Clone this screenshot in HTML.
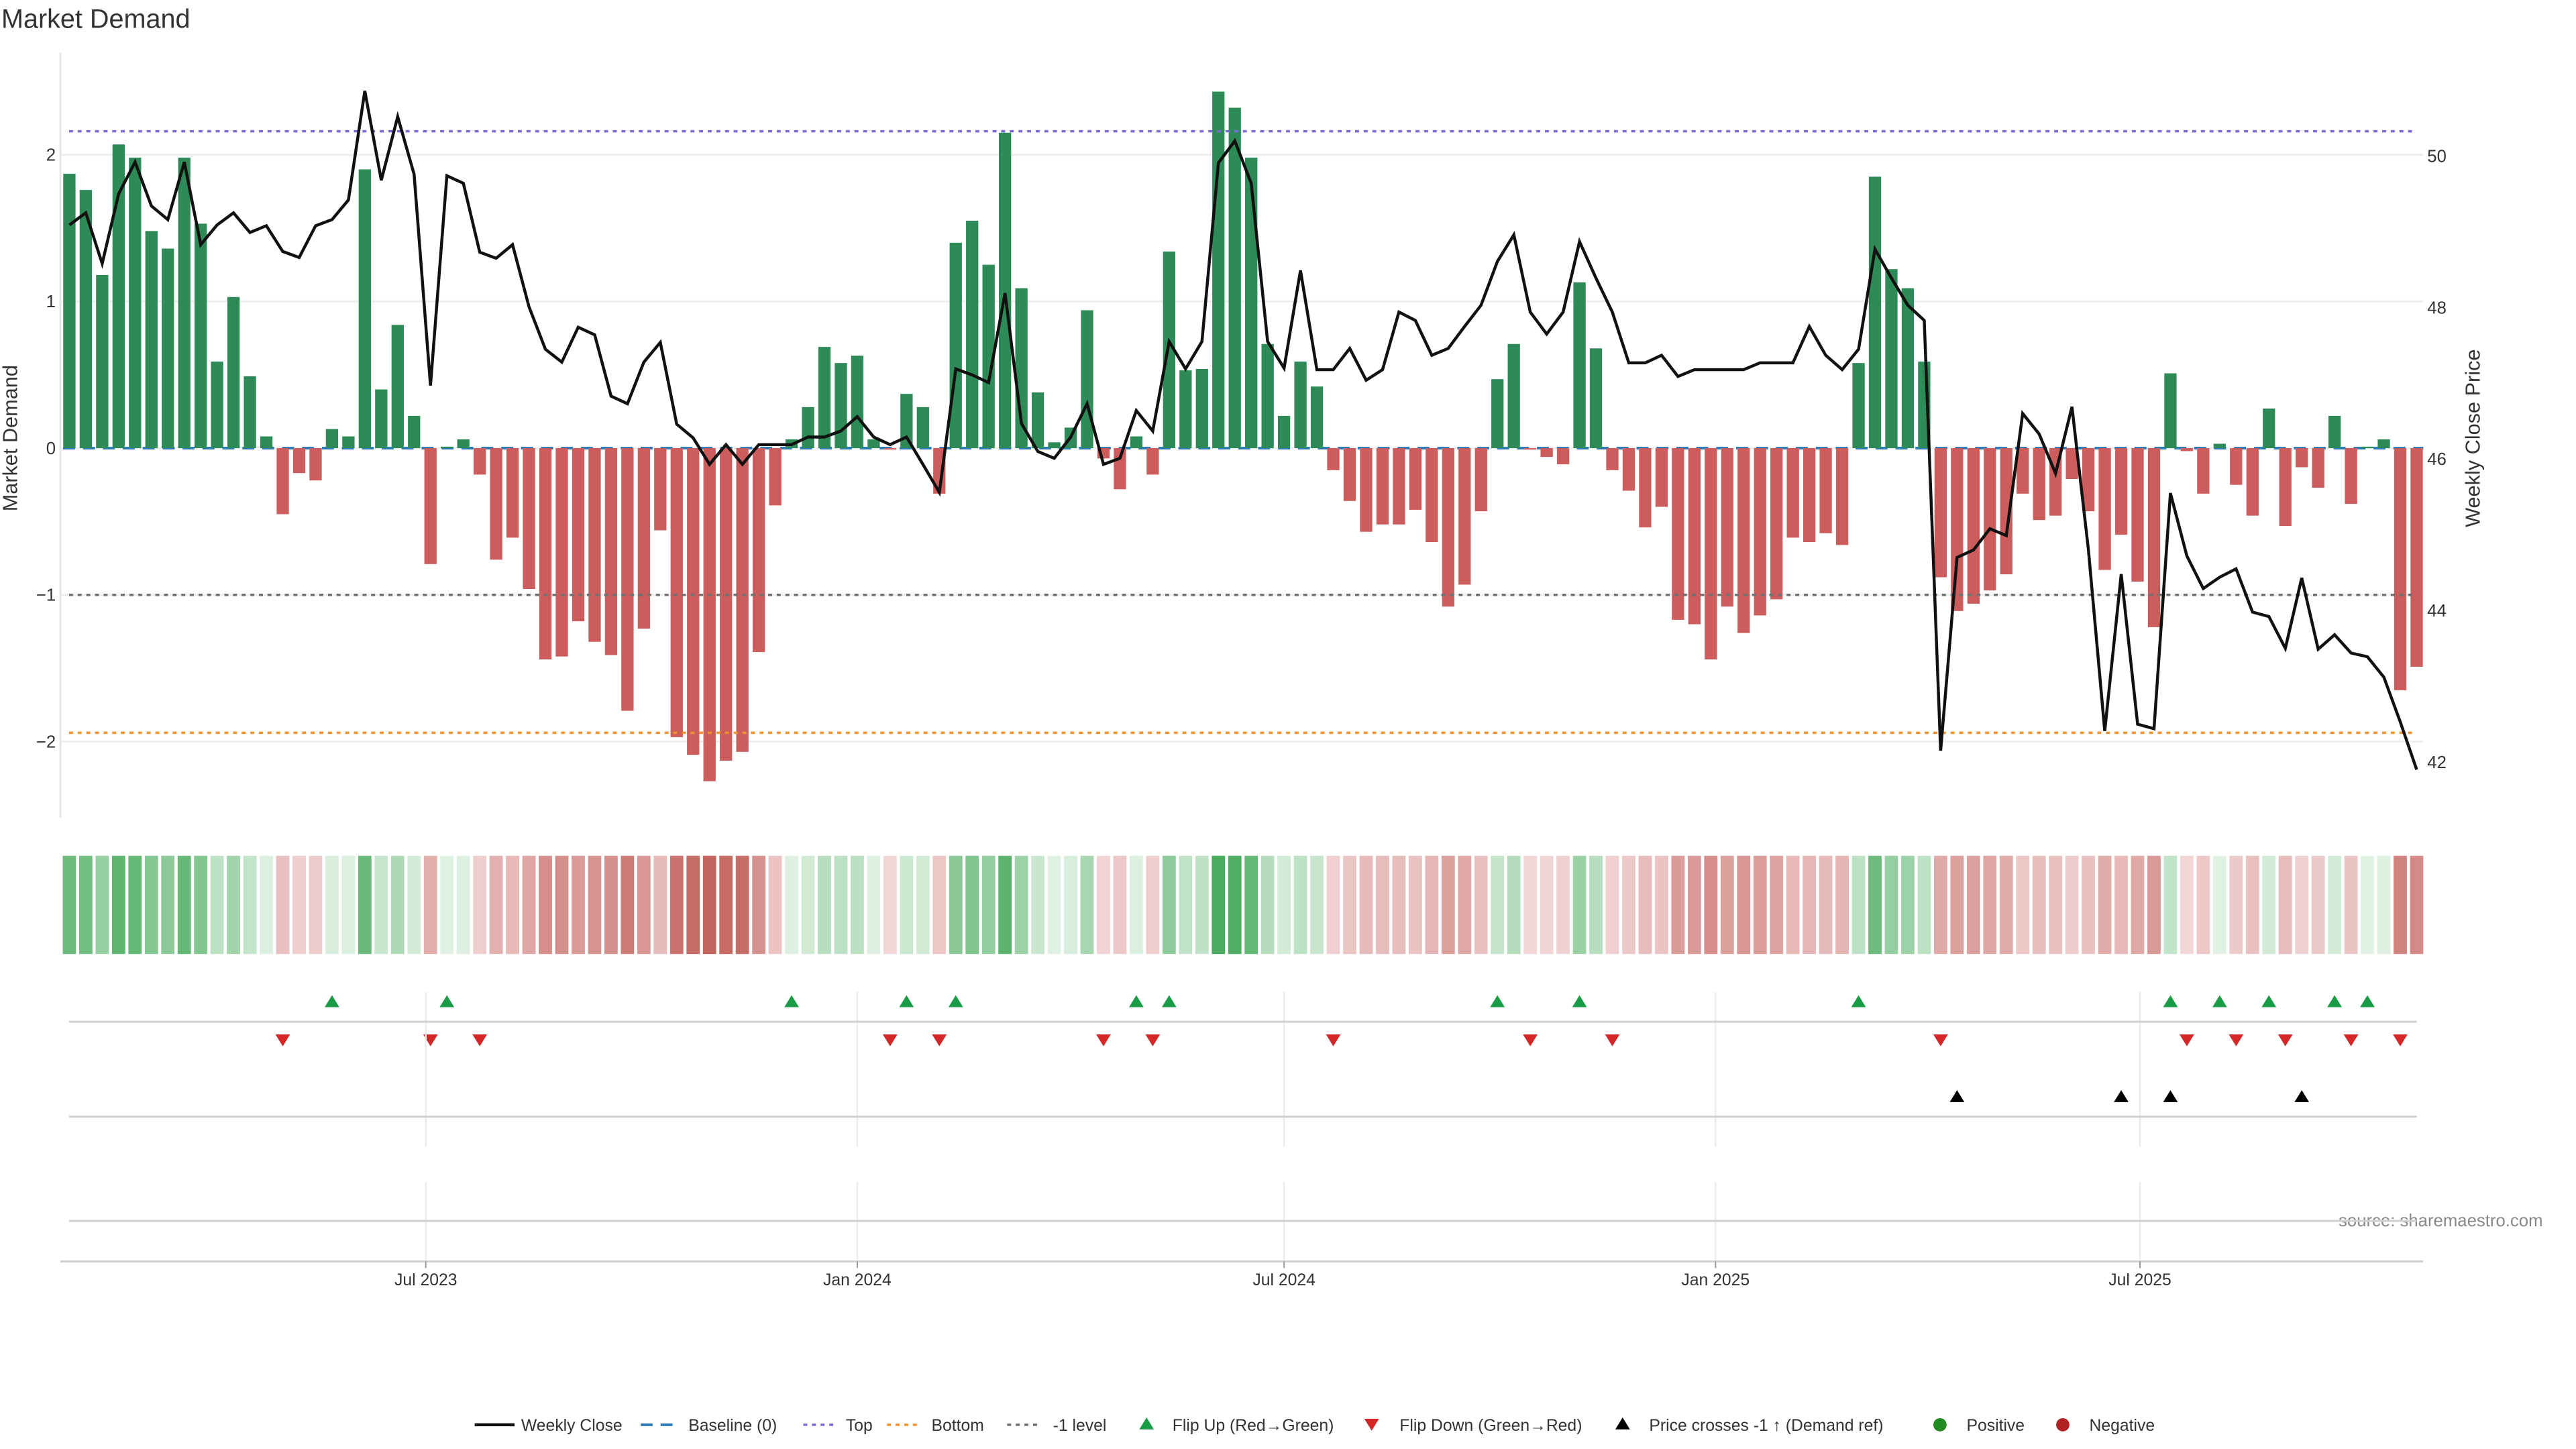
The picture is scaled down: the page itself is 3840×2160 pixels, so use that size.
<!DOCTYPE html>
<html><head><meta charset="utf-8"><style>
html,body{margin:0;padding:0;background:#fff}
svg{display:block;font-family:"Liberation Sans","DejaVu Sans",sans-serif}
</style></head><body>
<svg id="chart" xmlns="http://www.w3.org/2000/svg" width="3840" height="2160" viewBox="0 0 3880 2182.5" preserveAspectRatio="xMinYMin meet">
<text x="2" y="42" font-size="40" fill="#333">Market Demand</text>
<text transform="translate(26,660) rotate(-90)" text-anchor="middle" font-size="31" fill="#333">Market Demand</text>
<text transform="translate(3735,660) rotate(-90)" text-anchor="middle" font-size="31" fill="#333">Weekly Close Price</text>
<text x="3830" y="1847" text-anchor="end" font-size="26" fill="#888">source: sharemaestro.com</text>
<g id="grid"></g>
<g id="bars"></g>
<g id="refs"></g>
<g id="line"></g>
<g id="heat"></g>
<g id="marks"></g>
<g id="axes"></g>
<g id="legend"></g>
</svg>
<script>
const demand = [1.87,1.76,1.18,2.07,1.98,1.48,1.36,1.98,1.53,0.59,
1.03,0.49,0.08,-0.45,-0.17,-0.22,0.13,0.08,1.90,0.40,
0.84,0.22,-0.79,0.01,0.06,-0.18,-0.76,-0.61,-0.96,-1.44,
-1.42,-1.18,-1.32,-1.41,-1.79,-1.23,-0.56,-1.97,-2.09,-2.27,
-2.13,-2.07,-1.39,-0.39,0.06,0.28,0.69,0.58,0.63,0.06,
-0.01,0.37,0.28,-0.31,1.40,1.55,1.25,2.15,1.09,0.38,
0.04,0.14,0.94,-0.07,-0.28,0.08,-0.18,1.34,0.53,0.54,
2.43,2.32,1.98,0.71,0.22,0.59,0.42,-0.15,-0.36,-0.57,
-0.52,-0.52,-0.42,-0.64,-1.08,-0.93,-0.43,0.47,0.71,-0.01,
-0.06,-0.11,1.13,0.68,-0.15,-0.29,-0.54,-0.40,-1.17,-1.20,
-1.44,-1.08,-1.26,-1.14,-1.03,-0.61,-0.64,-0.58,-0.66,0.58,
1.85,1.22,1.09,0.59,-0.88,-1.11,-1.06,-0.97,-0.86,-0.31,
-0.49,-0.46,-0.21,-0.43,-0.83,-0.59,-0.91,-1.22,0.51,-0.02,
-0.31,0.03,-0.25,-0.46,0.27,-0.53,-0.13,-0.27,0.22,-0.38,
0.01,0.06,-1.65,-1.49];
const price = [49.09,49.25,48.58,49.50,49.92,49.34,49.16,49.92,48.83,49.09,
49.25,48.99,49.08,48.74,48.66,49.08,49.16,49.42,50.86,49.68,
50.52,49.76,46.97,49.74,49.64,48.73,48.65,48.83,48.01,47.45,
47.28,47.74,47.64,46.83,46.73,47.28,47.54,46.46,46.28,45.93,
46.19,45.93,46.19,46.19,46.19,46.29,46.29,46.37,46.56,46.29,
46.19,46.29,45.93,45.56,47.19,47.11,47.01,48.19,46.47,46.10,
46.01,46.29,46.73,45.93,46.01,46.64,46.37,47.55,47.19,47.55,
49.91,50.20,49.64,47.55,47.20,48.49,47.18,47.18,47.46,47.04,
47.18,47.94,47.83,47.37,47.46,47.75,48.03,48.61,48.96,47.94,
47.65,47.94,48.87,48.39,47.94,47.27,47.27,47.37,47.09,47.18,
47.18,47.18,47.18,47.27,47.27,47.27,47.75,47.37,47.18,47.45,
48.77,48.39,48.03,47.83,42.15,44.70,44.80,45.08,44.99,46.60,
46.33,45.81,46.69,44.81,42.41,44.48,42.50,42.44,45.55,44.72,
44.29,44.44,44.55,43.98,43.92,43.50,44.43,43.49,43.68,43.44,
43.39,43.12,42.53,41.90];
const leftTicks = [2,1,0,-1,-2];
const leftTickLabels = ["2","1","0","\u22121","\u22122"];
const rightTicks = [50,48,46,44,42];
const refLevels = [2.16,-1.94,-1];
const dateTicks = ["2023-07-01","2024-01-01","2024-07-01","2025-01-01","2025-07-01"];
const dateLabels = ["Jul 2023","Jan 2024","Jul 2024","Jan 2025","Jul 2025"];
const startDate = "2023-01-30";

const NS="http://www.w3.org/2000/svg";
function mk(tag, parent, attrs){const e=document.createElementNS(NS,tag);for(const k in attrs)e.setAttribute(k,attrs[k]);parent.appendChild(e);return e;}
const X0=104.5, X1=3640, STEP=(X1-X0)/(demand.length-1), BW=18.5;
const xB=i=>X0+i*STEP;
const yL=v=>675-v*221;
const yR=p=>235+(50-p)*114.1;
const xD=d=>X0+((new Date(d)-new Date(startDate))/864e5/7)*STEP;

const grid=document.getElementById('grid');
leftTicks.forEach(t=>{const l=mk('line',grid,{x1:92,x2:3650,y1:yL(t),y2:yL(t),stroke:'#eeeeee','stroke-width':3});

});
const la=mk('line',grid,{x1:91,x2:91,y1:79,y2:1232,stroke:'#e6e6e6','stroke-width':3});



const bars=document.getElementById('bars');
const bl=mk('line',bars,{x1:95,x2:3650,y1:yL(0),y2:yL(0),stroke:'#2f7bb8','stroke-width':4,'stroke-dasharray':'18 12'});


demand.forEach((v,i)=>{const y0=yL(0),y1=yL(v);
const r=mk('rect',bars,{x:xB(i)-BW/2,y:Math.min(y0,y1),width:BW,height:Math.max(Math.abs(y1-y0),0.5),fill:v>=0?'#2e8b57':'#cd5c5c'});

});

const refs=document.getElementById('refs');
const refCols=['#7b6bd6','#f0922e','#707070'];
const refNames=['top-line','bottom-line','minus-one-level-line'];
refLevels.forEach((v,k)=>{const l=mk('line',refs,{x1:104,x2:3640,y1:yL(v),y2:yL(v),stroke:refCols[k],'stroke-width':3.5,'stroke-dasharray':'6 7'});

});

const lineG=document.getElementById('line');
const pl=mk('polyline',lineG,{points:price.map((p,i)=>xB(i).toFixed(1)+','+yR(p).toFixed(1)).join(' '),fill:'none',stroke:'#111','stroke-width':4.5,'stroke-linejoin':'miter'});



const heat=document.getElementById('heat');
demand.forEach((v,i)=>{const t=Math.min(Math.abs(v)/2.4,1);let c;
if(v>=0)c=[225-150*t,242-70*t,228-133*t];else c=[242-49*t,215-122*t,215-128*t];
const r=mk('rect',heat,{x:xB(i)-10,y:1289,width:20,height:148,fill:'rgb('+c.map(Math.round).join(',')+')'});

});

const axes=document.getElementById('axes');
dateTicks.forEach(d=>{const x=xD(d);
[[1494,1727],[1780,1900]].forEach(s=>{const g=mk('line',axes,{x1:x,x2:x,y1:s[0],y2:s[1],stroke:'#ececec','stroke-width':2.5});

});});
[1539,1682,1839].forEach(y=>{const l=mk('line',axes,{x1:104,x2:3640,y1:y,y2:y,stroke:'#d0d0d0','stroke-width':3});

});
const xa=mk('line',axes,{x1:91,x2:3650,y1:1900,y2:1900,stroke:'#d0d0d0','stroke-width':3});


dateTicks.forEach((d,k)=>{const x=xD(d);
const tk=mk('line',axes,{x1:x,x2:x,y1:1900,y2:1910,stroke:'#999','stroke-width':2});


const t=mk('text',axes,{x:x,y:1936,'text-anchor':'middle','font-size':25,fill:'#333'});t.textContent=dateLabels[k];

});
leftTicks.forEach((v,k)=>{const t=mk('text',axes,{x:84,y:yL(v)+9,'text-anchor':'end','font-size':26,fill:'#333'});t.textContent=leftTickLabels[k];

});
rightTicks.forEach(v=>{const t=mk('text',axes,{x:3656,y:yR(v)+9,'font-size':26,fill:'#333'});t.textContent=String(v);

});

const marks=document.getElementById('marks');
function tri(parent,x,y,up,col){const h=18,w=22;
const pts=up?[[x,y-h/2],[x-w/2,y+h/2],[x+w/2,y+h/2]]:[[x,y+h/2],[x-w/2,y-h/2],[x+w/2,y-h/2]];
return mk('polygon',parent,{points:pts.map(p=>p.join(',')).join(' '),fill:col});}
const thr=50-(yL(-1)-235)/114.1;
for(let i=1;i<demand.length;i++){
 if(demand[i]>=0&&demand[i-1]<0){const m=tri(marks,xB(i),1508,true,'#1a9c47');
  
  }
 if(demand[i]<0&&demand[i-1]>=0){const m=tri(marks,xB(i),1567,false,'#d62728');
  
  }
 if(price[i]>=thr&&price[i-1]<thr){const m=tri(marks,xB(i),1651,true,'#000');
  
  }
}

const lg=document.getElementById('legend');
const LY=2146;
function ltxt(x,s){const t=mk('text',lg,{x:x,y:LY+9,'font-size':25,fill:'#333'});t.textContent=s;

}
function lline(x1,x2,col,dash,w){const l=mk('line',lg,{x1:x1,x2:x2,y1:LY,y2:LY,stroke:col,'stroke-width':w});if(dash)l.setAttribute('stroke-dasharray',dash);

}
lline(715,775,'#111',null,4.5);ltxt(785,'Weekly Close');
lline(965,1020,'#2f7bb8','18 12',4);ltxt(1037,'Baseline (0)');
lline(1210,1260,'#7b6bd6','6 7',3.5);ltxt(1274,'Top');
lline(1336,1386,'#f0922e','6 7',3.5);ltxt(1403,'Bottom');
lline(1517,1567,'#707070','6 7',3.5);ltxt(1586,'-1 level');
let s=tri(lg,1727,LY-2,true,'#1a9c47');
ltxt(1766,'Flip Up (Red\u2192Green)');
s=tri(lg,2066,LY,false,'#d62728');
ltxt(2108,'Flip Down (Green\u2192Red)');
s=tri(lg,2444,LY-2,true,'#000');
ltxt(2484,'Price crosses -1 \u2191 (Demand ref)');
let c=mk('circle',lg,{cx:2922,cy:LY,r:10,fill:'#228b22'});
ltxt(2962,'Positive');
c=mk('circle',lg,{cx:3107,cy:LY,r:10,fill:'#b22222'});
ltxt(3147,'Negative');
</script>
</body></html>
